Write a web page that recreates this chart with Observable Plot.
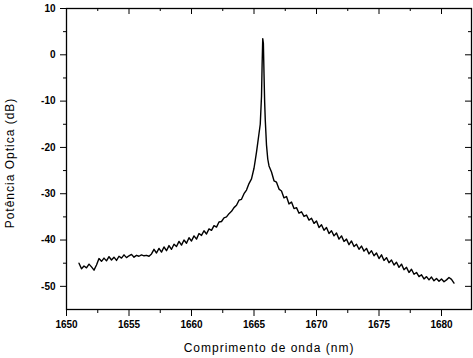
<!DOCTYPE html>
<html>
<head>
<meta charset="utf-8">
<script src="https://cdn.jsdelivr.net/npm/d3@7"></script>
<script src="https://cdn.jsdelivr.net/npm/@observablehq/plot@0.6"></script>
<style>
  html, body { margin: 0; padding: 0; background: #fff; }
  #chart svg { display: block; }
</style>
</head>
<body>
<div id="chart"></div>
<script>
const wavelength = [
  1651.0,1651.2,1651.4,1651.6,1651.8,1652.0,1652.2,1652.4,1652.6,1652.8,
  1653.0,1653.2,1653.4,1653.6,1653.8,1654.0,1654.2,1654.4,1654.6,1654.8,
  1655.0,1655.2,1655.4,1655.6,1655.8,1656.0,1656.2,1656.4,1656.6,1656.8,
  1657.0,1657.2,1657.4,1657.6,1657.8,1658.0,1658.2,1658.4,1658.6,1658.8,
  1659.0,1659.2,1659.4,1659.6,1659.8,1660.0,1660.2,1660.4,1660.6,1660.8,
  1661.0,1661.2,1661.4,1661.6,1661.8,1662.0,1662.2,1662.4,1662.6,1662.8,
  1663.0,1663.2,1663.4,1663.6,1663.8,1664.0,1664.2,1664.4,1664.6,1664.8,
  1665.0,1665.1,1665.2,1665.3,1665.4,1665.5,1665.6,1665.65,1665.7,1665.75,
  1665.8,1665.85,1665.9,1666.0,1666.1,1666.2,1666.4,1666.6,1666.8,1667.0,
  1667.2,1667.4,1667.6,1667.8,1668.0,1668.2,1668.4,1668.6,1668.8,1669.0,
  1669.2,1669.4,1669.6,1669.8,1670.0,1670.2,1670.4,1670.6,1670.8,1671.0,
  1671.2,1671.4,1671.6,1671.8,1672.0,1672.2,1672.4,1672.6,1672.8,1673.0,
  1673.2,1673.4,1673.6,1673.8,1674.0,1674.2,1674.4,1674.6,1674.8,1675.0,
  1675.2,1675.4,1675.6,1675.8,1676.0,1676.2,1676.4,1676.6,1676.8,1677.0,
  1677.2,1677.4,1677.6,1677.8,1678.0,1678.2,1678.4,1678.6,1678.8,1679.0,
  1679.2,1679.4,1679.6,1679.8,1680.0,1680.2,1680.4,1680.6,1680.8,1681.0
];
const power = [
  -45.0,-46.2,-45.6,-46.0,-45.2,-45.8,-46.5,-45.4,-44.0,-44.6,
  -43.9,-44.5,-43.6,-44.3,-43.7,-44.4,-43.5,-43.9,-43.2,-43.8,
  -43.4,-43.1,-43.7,-43.3,-43.5,-43.2,-43.4,-43.3,-43.5,-43.0,
  -42.0,-42.8,-41.8,-42.6,-41.5,-42.3,-41.2,-42.0,-40.9,-41.4,
  -40.3,-41.1,-40.0,-40.7,-39.5,-40.2,-39.1,-39.8,-38.6,-39.0,
  -38.0,-38.7,-37.6,-37.9,-36.9,-37.2,-36.1,-36.0,-35.2,-35.0,
  -34.3,-33.8,-33.0,-32.5,-31.4,-31.2,-30.0,-29.2,-27.8,-26.8,
  -24.5,-22.8,-21.0,-19.0,-17.0,-15.0,-9.0,-2.0,3.5,2.5,
  -4.0,-10.0,-14.0,-19.5,-22.5,-24.0,-25.3,-27.2,-27.5,-29.0,
  -29.4,-30.9,-30.6,-32.2,-31.8,-33.2,-33.0,-34.2,-33.9,-34.9,
  -34.6,-35.7,-35.3,-36.4,-35.9,-37.3,-36.7,-37.9,-37.3,-38.6,
  -38.0,-39.1,-38.5,-39.8,-39.1,-40.3,-39.8,-41.0,-40.2,-41.4,
  -40.9,-42.0,-41.3,-42.4,-41.8,-43.0,-42.3,-43.4,-42.8,-44.0,
  -43.2,-44.4,-43.8,-44.9,-44.3,-45.4,-44.8,-45.9,-45.2,-46.4,
  -45.9,-47.0,-46.3,-47.4,-47.0,-47.9,-47.5,-48.4,-47.9,-48.6,
  -48.0,-48.8,-48.3,-48.9,-48.4,-49.0,-48.6,-48.1,-48.5,-49.3
];
const xMajor = [1650, 1655, 1660, 1665, 1670, 1675, 1680];
const xMinor = [1652.5, 1657.5, 1662.5, 1667.5, 1672.5, 1677.5];
const yMajor = [-50, -40, -30, -20, -10, 0, 10];
const yMinor = [-45, -35, -25, -15, -5, 5];
const xTitle = "Comprimento de onda (nm)";
const yTitle = "Potência Optica (dB)";

const data = wavelength.map((w, i) => ({w, p: power[i]}));

const W = 473, H = 358;
const mL = 66, mR = 2, mT = 8, mB = 49;
const plotW = W - mL - mR, plotH = H - mT - mB;
const tickFont = {fontSize: 10, fontWeight: "bold", fontFamily: "Liberation Sans, Arial, sans-serif"};

const chart = Plot.plot({
  width: W, height: H,
  marginLeft: mL, marginRight: mR, marginTop: mT, marginBottom: mB,
  style: {fontFamily: "Liberation Sans, Arial, sans-serif", color: "#000", background: "#fff"},
  x: {domain: [1650, 1682.4]},
  y: {domain: [-55, 10]},
  marks: [
    Plot.axisX({ticks: xMajor, tickSize: 7, tickPadding: 4, tickFormat: d => String(d), label: null, ...tickFont}),
    Plot.axisX({ticks: xMinor, tickSize: 4, tickFormat: () => "", label: null}),
    Plot.axisY({ticks: yMajor, tickSize: 6, tickPadding: 5, tickFormat: d => String(d), label: null, ...tickFont}),
    Plot.axisY({ticks: yMinor, tickSize: 3, tickFormat: () => "", label: null}),
    Plot.ruleX(xMajor, {x: d => d, insetBottom: plotH - 6, stroke: "#000"}),
    Plot.ruleX(xMinor, {x: d => d, insetBottom: plotH - 3, stroke: "#000"}),
    Plot.ruleY(yMajor, {y: d => d, insetLeft: plotW - 6, stroke: "#000"}),
    Plot.ruleY(yMinor, {y: d => d, insetLeft: plotW - 3, stroke: "#000"}),
    Plot.frame({stroke: "#000", strokeWidth: 1.3}),
    Plot.line(data, {x: "w", y: "p", stroke: "#000", strokeWidth: 1.4}),
    Plot.text([xTitle], {text: d => d, frameAnchor: "bottom", dy: 39, fontSize: 12, textAnchor: "middle", lineAnchor: "middle"}),
    Plot.text([yTitle], {text: d => d, frameAnchor: "left", dx: -56, dy: 4, rotate: -90, fontSize: 12, textAnchor: "middle", lineAnchor: "middle"})
  ]
});
document.getElementById("chart").appendChild(chart);
d3.select(chart).selectAll("text").filter(function() {
  const t = this.textContent;
  return t === xTitle || t === yTitle;
}).attr("letter-spacing", "1px");
</script>
</body>
</html>
